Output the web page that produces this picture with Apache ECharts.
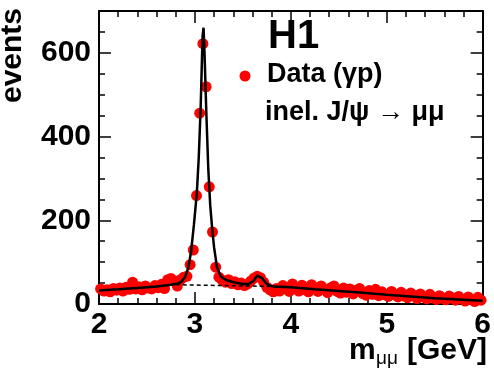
<!DOCTYPE html>
<html><head><meta charset="utf-8">
<script src="https://cdn.jsdelivr.net/npm/echarts@6/dist/echarts.min.js"></script>
<style>html,body{margin:0;padding:0;background:#fff}#c{width:494px;height:372px}</style>
</head><body><div id="c"></div>
<script>
// Histogram binning of m_mumu (GeV): 120 bins from 2 to 6
const massMin = 2, massMax = 6, nBins = 120;
// events per bin (data points, gamma p)
const counts = [
  36, 31, 34, 29, 37, 33, 38, 31, 40, 35,
  52, 36, 41, 34, 43, 38, 36, 44, 39, 47,
  37, 58, 61, 55, 43, 58, 64, 66, 94, 129,
  259, 456, 622, 519, 280, 172, 88, 64, 57, 52,
  58, 49, 53, 46, 50, 44, 48, 55, 62, 66,
  63, 52, 40, 34, 29, 37, 31, 44, 36, 30,
  48, 36, 31, 45, 34, 29, 46, 39, 30, 43,
  35, 27, 39, 43, 30, 26, 38, 28, 36, 24,
  33, 37, 25, 21, 32, 23, 35, 20, 29, 22,
  18, 30, 22, 17, 28, 19, 15, 26, 21, 13,
  24, 17, 12, 23, 15, 11, 20, 14, 10, 19,
  15, 9, 18, 12, 7, 17, 11, 6, 16, 9
];
// fitted total curve
const fitX = [2.00, 2.20, 2.40, 2.60, 2.75, 2.82, 2.86, 2.90, 2.93, 2.96, 2.99, 3.02, 3.04, 3.06, 3.08, 3.09, 3.10, 3.12, 3.14, 3.16, 3.18, 3.20, 3.23, 3.27, 3.32, 3.40, 3.50, 3.56, 3.61, 3.65, 3.67, 3.70, 3.74, 3.78, 3.82, 4.00, 4.25, 4.50, 4.75, 5.00, 5.25, 5.50, 5.75, 6.00];
const fitY = [32, 35, 38.5, 42, 46, 49, 53, 66, 86, 125, 190, 265, 350, 470, 640, 660, 600, 450, 320, 235, 180, 135, 88, 66, 58, 52, 48, 48, 55, 68, 70, 62, 50, 44, 42, 40, 35, 31, 27, 22, 18, 14, 11, 8];
// fitted background under the resonances (dashed)
const bgX = [2.80, 3.80];
const bgY = [46, 42];
// axis ticks
const xMin = 2, xMax = 6, xStep = 1;
const yMin = 0, yMax = 700, yStep = 200, yMinorStep = 50;

const FONT = 'Liberation Sans';
const binW = (massMax - massMin) / nBins;
const dataPts = counts.map((v, i) => [massMin + (i + 0.5) * binW, v]);
const fitPts = fitX.map((x, i) => [x, fitY[i]]);
const bgPts = bgX.map((x, i) => [x, bgY[i]]);

const black = '#000';
function xAx(pos, labels) {
  return {
    type: 'value', min: xMin, max: xMax, interval: xStep, position: pos,
    axisLine: {show: true, onZero: false, lineStyle: {color: black, width: 2}},
    axisTick: {show: true, inside: true, length: 12, lineStyle: {color: black, width: 1.5}},
    minorTick: {show: true, splitNumber: 5, length: 6, lineStyle: {color: black, width: 1.5}},
    splitLine: {show: false}, minorSplitLine: {show: false},
    axisLabel: {show: labels, color: black, fontFamily: FONT, fontWeight: 'bold', fontSize: 30, margin: 6}
  };
}
function yAx(pos, step, len, labels, line) {
  return {
    type: 'value', min: yMin, max: yMax, interval: step, position: pos,
    axisLine: {show: line, onZero: false, lineStyle: {color: black, width: 2}},
    axisTick: {show: true, inside: true, length: len, lineStyle: {color: black, width: 1.5}},
    splitLine: {show: false},
    axisLabel: {show: labels, showMaxLabel: false, color: black, fontFamily: FONT, fontWeight: 'bold', fontSize: 30, margin: 8}
  };
}

const chart = echarts.init(document.getElementById('c'), null, {renderer: 'canvas'});
chart.setOption({
  backgroundColor: '#fff',
  animation: false,
  grid: {left: 99, right: 8, top: 11, bottom: 68, containLabel: false},
  xAxis: [xAx('bottom', true), xAx('top', false)],
  yAxis: [
    yAx('left', yStep, 12, true, true),
    yAx('left', yMinorStep, 6, false, false),
    yAx('right', yStep, 12, false, true),
    yAx('right', yMinorStep, 6, false, false)
  ],
  series: [
    {name: 'Data (γp)', type: 'scatter', data: dataPts, symbol: 'circle', symbolSize: 11,
     itemStyle: {color: '#ff0000', opacity: 1}, z: 2, xAxisIndex: 0, yAxisIndex: 0},
    {name: 'background', type: 'line', data: bgPts, showSymbol: false, symbol: 'none',
     lineStyle: {color: black, width: 1.5, type: [4, 3]}, z: 3, xAxisIndex: 0, yAxisIndex: 0},
    {name: 'fit', type: 'line', data: fitPts, showSymbol: false, symbol: 'none', smooth: false,
     lineStyle: {color: black, width: 2.5}, z: 4, xAxisIndex: 0, yAxisIndex: 0}
  ],
  graphic: [
    {type: 'text', x: 268, y: 37, style: {text: 'H1', fill: black, font: 'bold 40px "Liberation Sans"', textAlign: 'left', textVerticalAlign: 'middle'}},
    {type: 'circle', shape: {cx: 245, cy: 76, r: 5.5}, style: {fill: '#ff0000'}},
    {type: 'text', x: 267, y: 75, style: {text: 'Data (γp)', fill: black, font: 'bold 27px "Liberation Sans"', textAlign: 'left', textVerticalAlign: 'middle'}},
    {type: 'text', x: 265, y: 113, style: {text: 'inel. J/ψ → μμ', fill: black, font: 'bold 27px "Liberation Sans"', textAlign: 'left', textVerticalAlign: 'middle'}},
    {type: 'text', x: 13, y: 8, rotation: Math.PI / 2, style: {text: 'events', fill: black, font: 'bold 30px "Liberation Sans"', textAlign: 'right', textVerticalAlign: 'middle'}},
    {type: 'text', x: 349, y: 351, style: {text: 'm', fill: black, font: 'bold 30px "Liberation Sans"', textAlign: 'left', textVerticalAlign: 'middle'}},
    {type: 'text', x: 376, y: 359, style: {text: 'μμ', fill: black, font: '19px "Liberation Sans"', textAlign: 'left', textVerticalAlign: 'middle'}},
    {type: 'text', x: 487, y: 351, style: {text: '[GeV]', fill: black, font: 'bold 30px "Liberation Sans"', textAlign: 'right', textVerticalAlign: 'middle'}}
  ]
});
</script>
</body></html>
